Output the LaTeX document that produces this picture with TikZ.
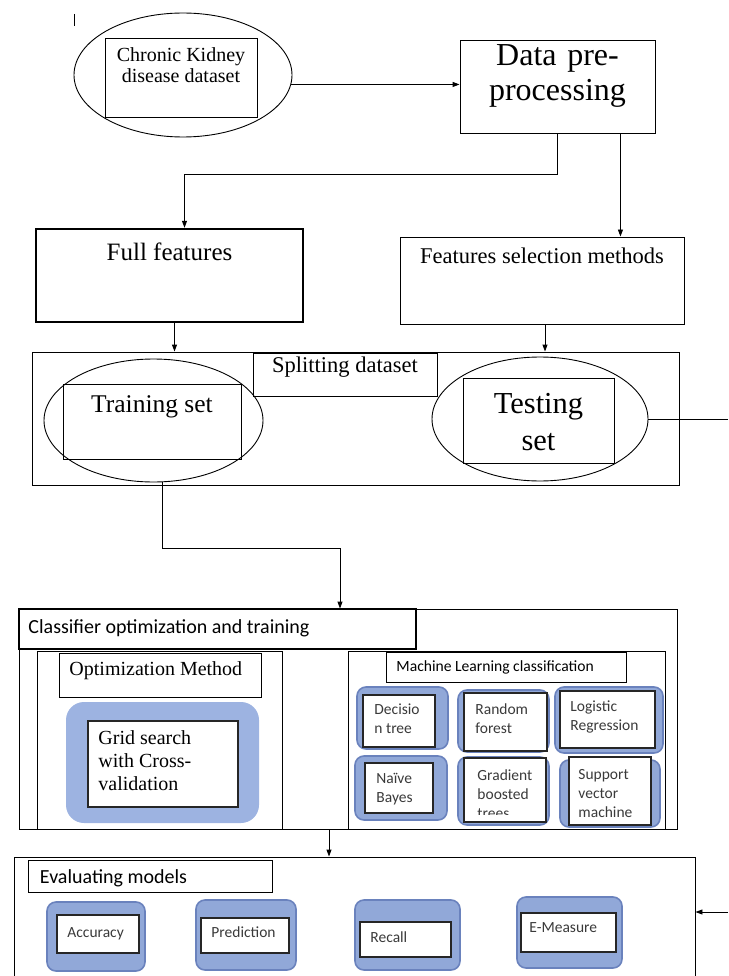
\documentclass[tikz,border=0pt]{standalone}
\usepackage{fontspec}
\setmainfont{Liberation Serif}
\newfontfamily\calib{Carlito}
\usepackage{tikz}
\usetikzlibrary{arrows.meta, shapes.geometric, fit, calc}
\definecolor{TileBlue}{HTML}{91A8D8}
\definecolor{TileEdge}{HTML}{6A82BD}
\definecolor{GridBlue}{HTML}{9DB3E1}
\definecolor{InkGray}{HTML}{3A3A3A}

\begin{document}
\begin{tikzpicture}[x=1pt, y=-1pt, line width=0.9pt,
    box/.style={draw, inner sep=0pt, fit={#1}},
    ovalbox/.style={draw, ellipse, inner sep=0pt},
    tile/.style={draw=TileEdge, fill=TileBlue, line width=1.6pt, rounded corners=9pt, inner sep=0pt, fit={#1}},
    tilein/.style={draw=black!85, fill=white, line width=1.3pt, inner sep=0pt, fit={#1}},
    serif/.style={inner sep=0pt, anchor=base, align=center},
    sans/.style={inner sep=0pt, anchor=base west, align=left, text=InkGray, font=\calib\fontsize{15.5}{19}\selectfont},
    arr/.style={-{Triangle[length=7pt,width=5pt]}}
  ]
    \useasboundingbox (0,0) rectangle (728,976);
    \clip (0,0) rectangle (728,976);

    \draw (74,14) -- (74,26);
    \node[ovalbox, minimum width=218pt, minimum height=124pt] (ckoval) at (183,75) {};
    \node[box={(105,38) (257,117)}] (ckbox) {};
    \node[serif, font=\fontsize{20}{21}\selectfont] (cktxt) at (181,83) {Chronic Kidney\\disease dataset};
    \node[box={(460,40) (655,133)}, align=center, font=\fontsize{32}{35}\selectfont] (data) {Data pre-\\processing};

    \node[box={(36,229) (303,322)}, line width=2.4pt] (full) {};
    \node[serif, font=\fontsize{25}{30}\selectfont] (fulltxt) at (169.5,260) {Full features};
    \node[box={(400,237) (684,324)}] (fsel) {};
    \node[serif, font=\fontsize{22.5}{27}\selectfont] (fseltxt) at (542,263) {Features selection methods};

    \node[box={(32,352) (679,485)}] (split) {};
    \node[box={(253,353) (437,396)}, font=\fontsize{22.5}{27}\selectfont] (splitlbl) {Splitting dataset};
    \node[ovalbox, minimum width=219pt, minimum height=123pt] (trainoval) at (153.5,420.5) {};
    \node[box={(63,384) (241,459)}] (trainbox) {};
    \node[serif, font=\fontsize{25.5}{30}\selectfont] (traintxt) at (152,412) {Training set};
    \node[ovalbox, minimum width=216pt, minimum height=124pt] (testoval) at (540,419) {};
    \node[box={(463,378) (614,463)}] (testbox) {};
    \node[serif, font=\fontsize{30.5}{37}\selectfont] (testtxt) at (538.5,450) {Testing\\set};

    \node[box={(19,609) (677,829)}] (cls) {};
    \node[box={(19,609) (416,649)}, line width=1.8pt] (clslbl) {};
    \node[sans, text=black, font=\calib\fontsize{20}{24}\selectfont] (clstxt) at (28,633) {Classifier optimization and training};
    \node[box={(37,651) (282,829)}] (optpanel) {};
    \node[box={(59,653) (261,697)}] (optlbl) {};
    \node[serif, anchor=base west, font=\fontsize{20}{24}\selectfont] (opttxt) at (69,675) {Optimization Method};
    \node[fill=GridBlue, rounded corners=18pt, inner sep=0pt, fit={(66,702) (259,823)}] (gridtile) {};
    \node[tilein={(88,721) (238,807)}] (gridin) {};
    \node[serif, anchor=base west, align=left, font=\fontsize{20}{23}\selectfont] (gridtxt) at (98,790) {Grid search\\with Cross-\\validation};

    \node[box={(348,651) (665,829)}] (mlpanel) {};
    \node[box={(386,652) (626,682)}] (mllbl) {};
    \node[sans, text=black, font=\calib\fontsize{15.6}{19}\selectfont] (mltxt) at (396,671) {Machine Learning classification};

    \node[tile={(357,687) (448,749)}] (dt) {};
    \node[tilein={(363,695) (435,747)}] (dtin) {};
    \node[sans] (dttxt) at (374,733) {Decisio\\n tree};
    \node[tile={(458,690) (549,752)}] (rf) {};
    \node[tilein={(464,693) (547,751)}] (rfin) {};
    \node[sans] (rftxt) at (475,733) {Random\\forest};
    \node[tile={(555,687) (663,753)}] (lr) {};
    \node[tilein={(560,691) (655,748)}] (lrin) {};
    \node[sans] (lrtxt) at (570,730) {Logistic\\Regression};
    \node[tile={(355,756) (447,820)}] (nb) {};
    \node[tilein={(365,763) (433,813)}] (nbin) {};
    \node[sans] (nbtxt) at (376,802) {Naïve\\Bayes};
    \node[tile={(458,757) (549,825)}] (gb) {};
    \node[tilein={(464,758) (546,822)}] (gbin) {};
    \begin{scope}
      \clip (464,758) rectangle (546,814);
      \node[sans] (gbtxt) at (477,818) {Gradient\\boosted\\trees};
    \end{scope}
    \node[tile={(560,760) (660,827)}] (sv) {};
    \node[tilein={(569,757) (651,825)}] (svin) {};
    \node[sans] (svtxt) at (578,817) {Support\\vector\\machine};

    \node[box={(14,857) (695,990)}] (evalbox) {};
    \node[box={(28,860) (272,892)}] (evallbl) {};
    \node[sans, text=black, font=\calib\fontsize{20}{24}\selectfont] (evaltxt) at (39.5,883) {Evaluating models};
    \node[tile={(47,902) (145,971)}] (acc) {};
    \node[tilein={(57,915) (139,953)}] (accin) {};
    \node[sans] (acctxt) at (67,937) {Accuracy};
    \node[tile={(196,900) (296,970)}] (pred) {};
    \node[tilein={(201,918) (289,953)}] (predin) {};
    \node[sans] (predtxt) at (211,937) {Prediction};
    \node[tile={(355,900) (460,970)}] (rec) {};
    \node[tilein={(360,922) (451,957)}] (recin) {};
    \node[sans] (rectxt) at (370,942) {Recall};
    \node[tile={(517,897) (622,968)}] (emeas) {};
    \node[tilein={(521,913) (616,952)}] (emeasin) {};
    \node[sans] (emeastxt) at (529,932) {E-Measure};

    \coordinate (tsout) at (728,419);
    \coordinate (evin) at (728,912);

    \draw[arr] (ckoval.-5) -- (data.west |- ckoval.-5);
    \draw[arr] (data.south) -- ++(0,41) -| ([xshift=15pt]full.north);
    \draw[arr] ([xshift=-35pt]data.south east) -- ([xshift=-35pt]data.south east |- fsel.north);
    \draw[arr] ([xshift=5pt]full.south) -- ([xshift=5pt]full.south |- split.north);
    \draw[arr] ([xshift=3pt]fsel.south) -- ([xshift=3pt]fsel.south |- split.north);
    \draw[arr] ([xshift=8.5pt]trainoval.south) -- ++(0,66) -| ([xshift=-8pt]cls.north);
    \draw (testoval.east) -- (tsout);
    \draw[arr] ([xshift=-19pt]cls.south) -- ([xshift=-19pt]cls.south |- evalbox.north);
    \draw[arr] (evin) -- (evalbox.east |- evin);
  \end{tikzpicture}
\end{document}
